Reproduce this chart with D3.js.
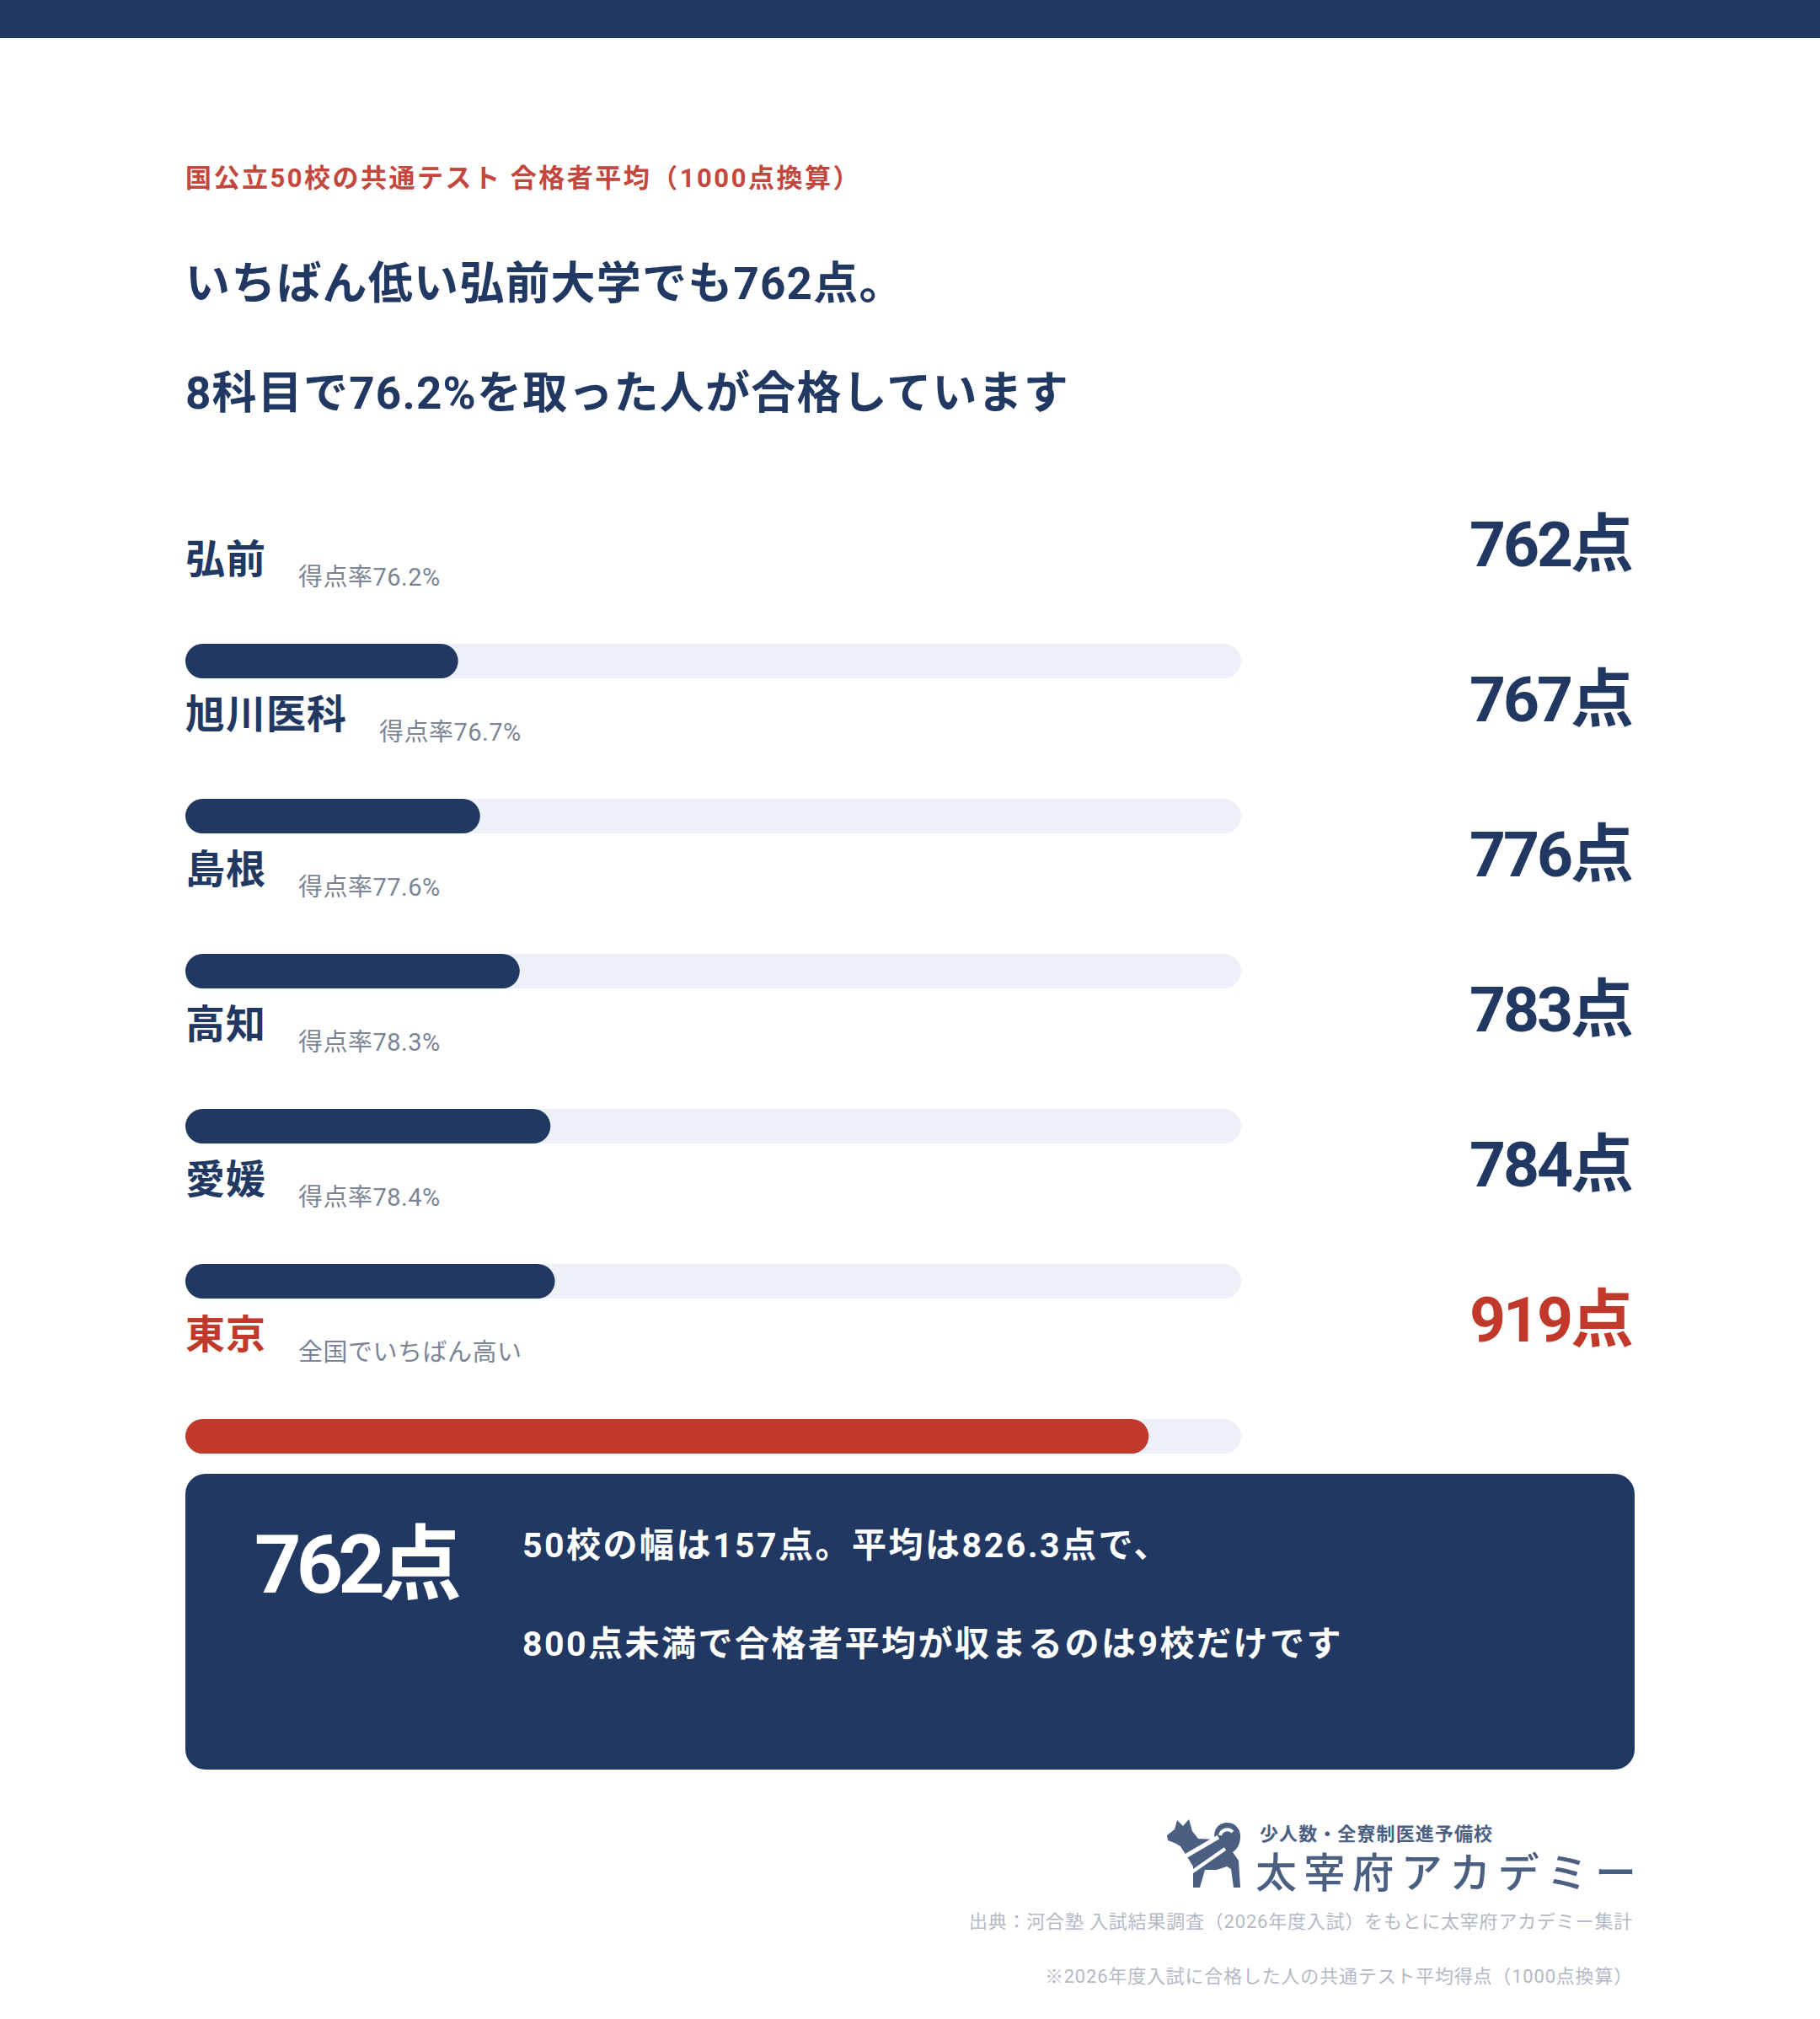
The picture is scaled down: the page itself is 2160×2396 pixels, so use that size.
<!DOCTYPE html>
<html lang="ja">
<head>
<meta charset="utf-8">
<script src="https://cdn.jsdelivr.net/npm/d3@7"></script>
<style>
  html, body { margin: 0; padding: 0; background: #fff; }
  svg { display: block; }
  text { font-family: Roboto, "Noto Sans CJK JP", sans-serif; }
</style>
</head>
<body>
<div id="chart"></div>
<script>
// data
const schools = ["弘前", "旭川医科", "島根", "高知", "愛媛", "東京"];
const scores = [762, 767, 776, 783, 784, 919];
const notes = ["得点率76.2%", "得点率76.7%", "得点率77.6%", "得点率78.3%", "得点率78.4%", "全国でいちばん高い"];
const highlight = ["東京"];
const scoreDomain = [700, 940];

const kicker = "国公立50校の共通テスト 合格者平均（1000点換算）";
const headline = ["いちばん低い弘前大学でも762点。", "8科目で76.2%を取った人が合格しています"];
const summaryValue = "762点";
const summaryLines = ["50校の幅は157点。平均は826.3点で、", "800点未満で合格者平均が収まるのは9校だけです"];
const logoSub = "少人数・全寮制医進予備校";
const logoName = "太宰府アカデミー";
const footnotes = ["出典：河合塾 入試結果調査（2026年度入試）をもとに太宰府アカデミー集計",
                   "※2026年度入試に合格した人の共通テスト平均得点（1000点換算）"];

const W = 2160, H = 2396;
const navy = "#213862", red = "#c0392b", track = "#edf0f7", grey = "#7b8494";

const svg = d3.select("#chart")
  .append("svg")
    .attr("width", W)
    .attr("height", H);

// top band
svg.append("rect").attr("x", 0).attr("y", 0).attr("width", W).attr("height", 45).attr("fill", navy);

// headings
svg.append("text").attr("x", 220).attr("y", 222)
  .attr("font-size", 31).attr("font-weight", 700).attr("fill", "#c4473d")
  .attr("letter-spacing", 2.5)
  .text(kicker);

svg.selectAll("text.headline")
  .data(headline)
  .join("text")
    .attr("class", "headline")
    .attr("x", 220)
    .attr("y", (d, i) => 355 + i * 130)
    .attr("font-size", 53).attr("font-weight", 700).attr("fill", navy)
    .attr("letter-spacing", 1.2)
    .text(d => d);

// bars
const left = 220, right = 1473;
const x = d3.scaleLinear().domain(scoreDomain).range([left, right]);
const y = d3.scaleBand().domain(schools).range([600, 600 + 184 * schools.length]).paddingInner(0);
const barH = 41;
const colorOf = s => highlight.includes(s) ? red : navy;

const rows = svg.append("g")
  .selectAll("g")
  .data(schools.map((s, i) => ({ school: s, score: scores[i], note: notes[i] })))
  .join("g")
    .attr("transform", d => `translate(0,${y(d.school)})`);

rows.append("text")
    .attr("class", "label")
    .attr("x", left)
    .attr("y", 80)
    .attr("font-size", 47).attr("font-weight", 700)
    .attr("letter-spacing", 1)
    .attr("fill", d => colorOf(d.school))
    .text(d => d.school);

rows.append("text")
    .attr("class", "note")
    .attr("x", function() {
      const lbl = d3.select(this.parentNode).select("text.label").node();
      return left + lbl.getComputedTextLength() + 38;
    })
    .attr("y", 95)
    .attr("font-size", 29).attr("fill", grey)
    .attr("letter-spacing", 0.5)
    .text(d => d.note);

rows.append("text")
    .attr("x", 1936)
    .attr("y", 72)
    .attr("text-anchor", "end")
    .attr("font-size", 75).attr("font-weight", 700)
    .attr("letter-spacing", -3)
    .attr("fill", d => colorOf(d.school))
    .text(d => `${d.score}点`);

rows.append("rect")
    .attr("x", left).attr("y", 164)
    .attr("width", x(scoreDomain[1]) - left).attr("height", barH)
    .attr("rx", barH / 2)
    .attr("fill", track);

rows.append("rect")
    .attr("x", left).attr("y", 164)
    .attr("width", d => x(d.score) - left).attr("height", barH)
    .attr("rx", barH / 2)
    .attr("fill", d => colorOf(d.school));

// summary box
svg.append("rect")
    .attr("x", 220).attr("y", 1749)
    .attr("width", 1720).attr("height", 351)
    .attr("rx", 24)
    .attr("fill", navy);

svg.append("text")
    .attr("x", 302).attr("y", 1890)
    .attr("font-size", 97).attr("font-weight", 700).attr("fill", "#fff")
    .attr("letter-spacing", -6)
    .text(summaryValue);

svg.selectAll("text.summary")
  .data(summaryLines)
  .join("text")
    .attr("class", "summary")
    .attr("x", 620)
    .attr("y", (d, i) => 1848 + i * 117)
    .attr("font-size", 41).attr("font-weight", 700).attr("fill", "#fff")
    .attr("letter-spacing", 2.5)
    .text(d => d);

// logo
const logoColor = "#4a5f82";
const logo = svg.append("g").attr("transform", "translate(1384,2158)");
logo.append("path")
    .attr("fill", logoColor)
    .attr("d", "M1,20 L10,13 L13,2 L20,9 L27,1 L31,15 L38,24 L58,25 C55,14 62,5 72,5 C85,5 91,17 87,29 C85,35 82,38 79,40 L86,50 L88,82 L80,82 L77,60 L72,57 L60,61 L46,61 L40,82 L32,82 L32,57 L24,44 L17,33 L10,29 L2,26 Z");
logo.append("path")
    .attr("fill", "none").attr("stroke", "#fff").attr("stroke-width", 5)
    .attr("d", "M14,50 L62,22");
logo.append("path")
    .attr("fill", "none").attr("stroke", "#fff").attr("stroke-width", 4)
    .attr("d", "M30,64 L70,36");
logo.append("path")
    .attr("fill", "none").attr("stroke", "#fff").attr("stroke-width", 4)
    .attr("d", "M64,20 C66,13 74,11 79,16");

svg.append("text")
    .attr("x", 1495).attr("y", 2184)
    .attr("font-size", 22).attr("font-weight", 700).attr("fill", logoColor)
    .attr("textLength", 276).attr("lengthAdjust", "spacing")
    .text(logoSub);

svg.append("text")
    .attr("x", 1490).attr("y", 2240)
    .attr("font-size", 49).attr("font-weight", 500).attr("fill", logoColor)
    .attr("textLength", 452).attr("lengthAdjust", "spacing")
    .text(logoName);

// footnotes
svg.selectAll("text.foot")
  .data(footnotes)
  .join("text")
    .attr("class", "foot")
    .attr("x", 1938)
    .attr("y", (d, i) => 2288 + i * 65)
    .attr("text-anchor", "end")
    .attr("font-size", 22).attr("fill", "#b3b9c6")
    .attr("letter-spacing", 0.8)
    .text(d => d);
</script>
</body>
</html>
